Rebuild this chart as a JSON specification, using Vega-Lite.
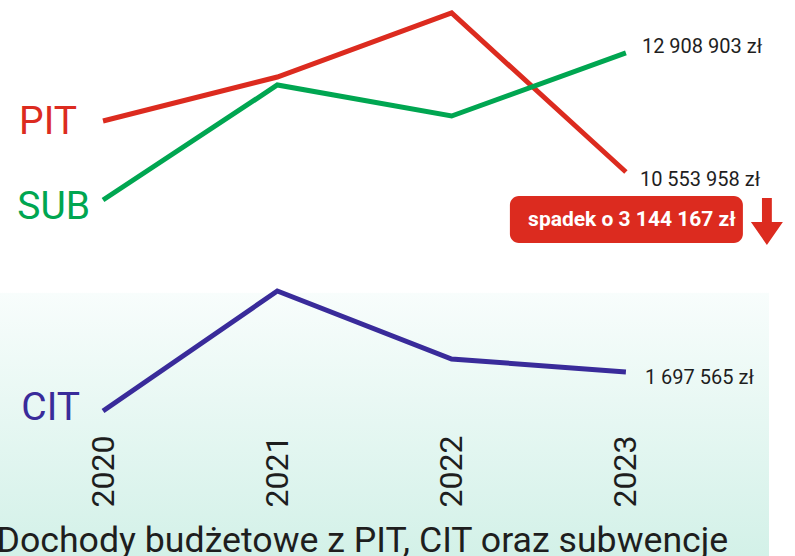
{
  "$schema": "https://vega.github.io/schema/vega-lite/v6.json",
  "width": 769,
  "height": 556,
  "autosize": {"type": "none"},
  "padding": {"left": 0, "top": 0, "right": 26, "bottom": 0},
  "background": "white",
  "view": {
    "stroke": null,
    "fill": {
      "gradient": "linear", "x1": 0, "y1": 0, "x2": 0, "y2": 1,
      "stops": [
        {"offset": 0, "color": "#ffffff"},
        {"offset": 0.526, "color": "#ffffff"},
        {"offset": 0.527, "color": "#f8fdfc"},
        {"offset": 1, "color": "#d3f1e8"}
      ]
    }
  },
  "config": {
    "font": "Roboto",
    "locale": {"number": {"decimal": ",", "thousands": " ", "grouping": [3], "currency": ["", " zł"]}}
  },
  "data": {
    "values": [
      {"series": "PIT", "year": 2020, "value": 11562000},
      {"series": "PIT", "year": 2021, "value": 12432000},
      {"series": "PIT", "year": 2022, "value": 13698125},
      {"series": "PIT", "year": 2023, "value": 10553958},
      {"series": "SUB", "year": 2020, "value": 10000000},
      {"series": "SUB", "year": 2021, "value": 12274000},
      {"series": "SUB", "year": 2022, "value": 11661000},
      {"series": "SUB", "year": 2023, "value": 12908903},
      {"series": "CIT", "year": 2020, "value": 925000},
      {"series": "CIT", "year": 2021, "value": 3298000},
      {"series": "CIT", "year": 2022, "value": 1954000},
      {"series": "CIT", "year": 2023, "value": 1697565}
    ]
  },
  "encoding": {
    "x": {
      "field": "year", "type": "quantitative",
      "scale": {"domain": [2019.409, 2023.821], "nice": false, "zero": false},
      "axis": {
        "values": [2020, 2021, 2022, 2023], "format": "d",
        "labelAngle": 270, "labelFontSize": 32, "labelFont": "Roboto",
        "labelColor": "#1e1e1e", "labelPadding": 7, "labelFlush": false, "labelOverlap": false,
        "ticks": false, "domain": false, "grid": false, "offset": -128,
        "title": "Dochody budżetowe z PIT, CIT oraz subwencje",
        "titleFont": "Roboto", "titleFontSize": 35.7, "titleFontWeight": "normal",
        "titleColor": "#1e1e1e", "titleAnchor": "start", "titleAlign": "left",
        "titleX": -4, "titleY": 123, "titleBaseline": "alphabetic"
      }
    }
  },
  "layer": [
    {
      "encoding": {
        "y": {"field": "value", "type": "quantitative",
              "scale": {"domain": [2960000, 13955000], "nice": false, "zero": false}, "axis": null}
      },
      "layer": [
        {"transform": [{"filter": "datum.series == 'PIT'"}],
         "mark": {"type": "line", "color": "#dc2b1f", "strokeWidth": 5}},
        {"transform": [{"filter": "datum.series == 'SUB'"}],
         "mark": {"type": "line", "color": "#00a651", "strokeWidth": 5}},
        {"transform": [{"filter": "datum.series == 'SUB' && datum.year == 2023"}],
         "mark": {"type": "text", "align": "left", "baseline": "middle", "dx": 16, "dy": -6, "fontSize": 20, "color": "#1e1e1e"},
         "encoding": {"text": {"field": "value", "type": "quantitative", "format": "$,.0f"}}},
        {"transform": [{"filter": "datum.series == 'PIT' && datum.year == 2023"}],
         "mark": {"type": "text", "align": "left", "baseline": "middle", "dx": 14, "dy": 8, "fontSize": 20, "color": "#1e1e1e"},
         "encoding": {"text": {"field": "value", "type": "quantitative", "format": "$,.0f"}}},
        {"transform": [{"filter": "datum.series == 'PIT' && datum.year == 2020"}],
         "mark": {"type": "text", "align": "right", "baseline": "middle", "dx": -26, "dy": 1, "fontSize": 39, "color": "#dc2b1f"},
         "encoding": {"text": {"field": "series"}}},
        {"transform": [{"filter": "datum.series == 'SUB' && datum.year == 2020"}],
         "mark": {"type": "text", "align": "right", "baseline": "middle", "dx": -13, "dy": 7, "fontSize": 39, "color": "#00a651"},
         "encoding": {"text": {"field": "series"}}},
        {"transform": [{"filter": "datum.series == 'PIT' && datum.year == 2023"}],
         "mark": {"type": "rect", "width": 233, "height": 47, "cornerRadius": 9, "color": "#dc2b1f", "yOffset": 47.5, "xOffset": 0.5}},
        {"transform": [{"filter": "datum.series == 'PIT' && datum.year == 2023"}],
         "mark": {"type": "text", "text": "spadek o 3 144 167 zł", "align": "center", "baseline": "middle",
                  "dx": 6, "dy": 48, "fontSize": 21, "fontWeight": "bold", "color": "#ffffff"}},
        {"transform": [{"filter": "datum.series == 'PIT' && datum.year == 2023"}],
         "mark": {"type": "point", "shape": "M-0.21,-1L0.21,-1L0.21,0.02L0.68,0.02L0,1L-0.68,0.02L-0.21,0.02Z",
                  "size": 2209, "filled": true, "color": "#dc2b1f", "opacity": 1, "strokeWidth": 0,
                  "xOffset": 141, "yOffset": 49.5}}
      ]
    },
    {
      "encoding": {
        "y": {"field": "value", "type": "quantitative",
              "scale": {"domain": [-1942000, 9053000], "nice": false, "zero": false}, "axis": null}
      },
      "layer": [
        {"transform": [{"filter": "datum.series == 'CIT'"}],
         "mark": {"type": "line", "color": "#392b9a", "strokeWidth": 5}},
        {"transform": [{"filter": "datum.series == 'CIT' && datum.year == 2023"}],
         "mark": {"type": "text", "align": "left", "baseline": "middle", "dx": 19, "dy": 6, "fontSize": 20, "color": "#1e1e1e"},
         "encoding": {"text": {"field": "value", "type": "quantitative", "format": "$,.0f"}}},
        {"transform": [{"filter": "datum.series == 'CIT' && datum.year == 2020"}],
         "mark": {"type": "text", "align": "right", "baseline": "middle", "dx": -23, "dy": -3, "fontSize": 39, "color": "#392b9a"},
         "encoding": {"text": {"field": "series"}}}
      ]
    }
  ],
  "resolve": {"scale": {"y": "independent"}}
}
